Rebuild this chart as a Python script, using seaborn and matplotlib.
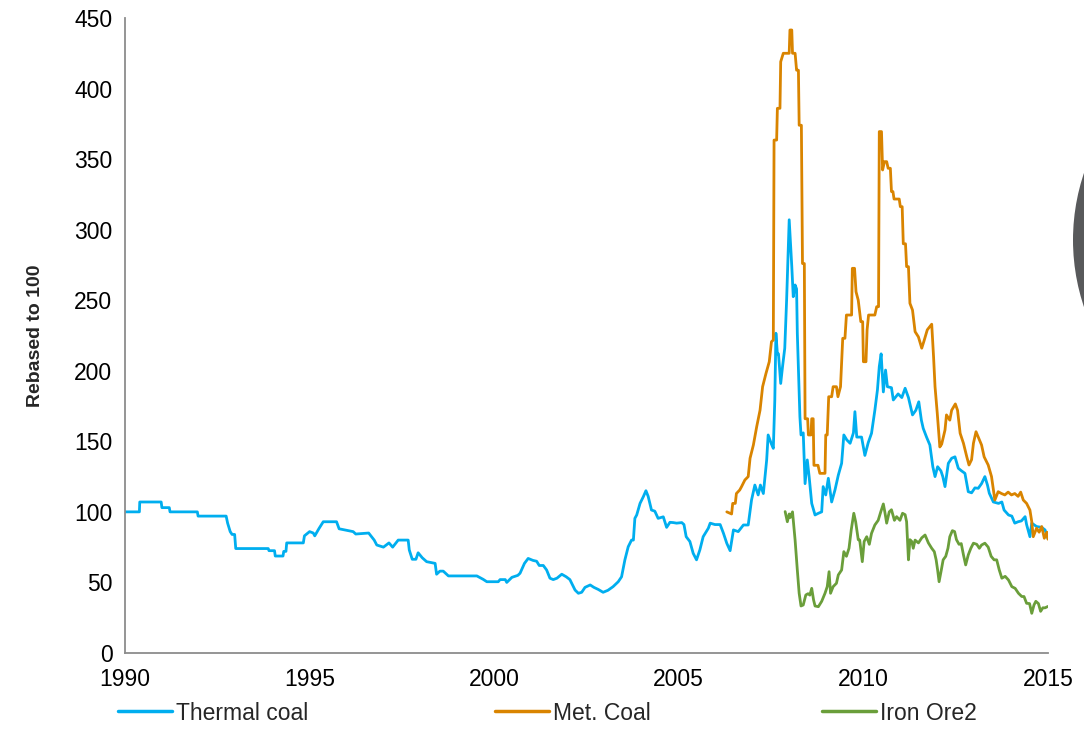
import matplotlib
matplotlib.use("Agg")
import matplotlib.pyplot as plt
from matplotlib.lines import Line2D
from matplotlib.patches import Ellipse
import seaborn as sns
import pandas as pd

# Thermal coal, rebased to 100 (decimal year, index)
thermal_year = [
    1990.0, 1990.39, 1990.40, 1990.98, 1991.0, 1991.2, 1991.22, 1991.96, 1991.98, 1992.74,
    1992.78, 1992.85, 1992.9, 1992.97, 1993.0, 1993.88, 1993.9, 1994.05, 1994.07, 1994.28,
    1994.3, 1994.36, 1994.38, 1994.83, 1994.86, 1995.0, 1995.1, 1995.14, 1995.25, 1995.37,
    1995.73, 1995.8, 1996.18, 1996.25, 1996.6, 1996.75, 1996.82, 1997.0, 1997.15, 1997.25,
    1997.4, 1997.67, 1997.7, 1997.78, 1997.88, 1997.94, 1998.05, 1998.17, 1998.4, 1998.44,
    1998.53, 1998.62, 1998.76, 1999.53, 1999.7, 1999.8, 2000.11, 2000.16, 2000.3, 2000.34,
    2000.48, 2000.64, 2000.7, 2000.82, 2000.92, 2001.05, 2001.15, 2001.22, 2001.33, 2001.42,
    2001.51, 2001.6, 2001.7, 2001.83, 2001.95, 2002.05, 2002.19, 2002.28, 2002.37, 2002.46,
    2002.6, 2002.7, 2002.82, 2002.95, 2003.08, 2003.22, 2003.36, 2003.45, 2003.54, 2003.63,
    2003.72, 2003.77, 2003.81, 2003.86, 2003.95, 2004.04, 2004.11, 2004.17, 2004.26, 2004.35,
    2004.44, 2004.58, 2004.67, 2004.76, 2004.85, 2004.94, 2005.08, 2005.14, 2005.2, 2005.3,
    2005.39, 2005.48, 2005.57, 2005.66, 2005.8, 2005.85, 2005.98, 2006.12, 2006.21, 2006.3,
    2006.39, 2006.48, 2006.61, 2006.75, 2006.88, 2006.97, 2007.06, 2007.15, 2007.21, 2007.29,
    2007.38, 2007.42, 2007.51, 2007.56, 2007.6, 2007.63, 2007.67, 2007.7, 2007.76, 2007.81,
    2007.87, 2007.92, 2007.99, 2008.06, 2008.1, 2008.15, 2008.19, 2008.21, 2008.28, 2008.31,
    2008.37, 2008.42, 2008.48, 2008.53, 2008.6, 2008.69, 2008.78, 2008.87, 2008.91, 2008.98,
    2009.05, 2009.14, 2009.23, 2009.32, 2009.41, 2009.47, 2009.55, 2009.64, 2009.73, 2009.77,
    2009.82, 2009.95, 2010.04, 2010.13, 2010.22, 2010.31, 2010.38, 2010.43, 2010.48, 2010.54,
    2010.6, 2010.65, 2010.76, 2010.81, 2010.94, 2011.04, 2011.13, 2011.22, 2011.33, 2011.42,
    2011.5, 2011.57, 2011.62, 2011.71, 2011.8, 2011.88, 2011.94, 2012.01, 2012.1, 2012.15,
    2012.21, 2012.3, 2012.39, 2012.48, 2012.57, 2012.66, 2012.75, 2012.84, 2012.93, 2013.02,
    2013.11, 2013.2, 2013.29, 2013.36, 2013.41, 2013.52, 2013.66, 2013.75, 2013.81, 2013.93,
    2014.02, 2014.1, 2014.19, 2014.28, 2014.38, 2014.42, 2014.51, 2014.56, 2014.69, 2014.83,
    2014.92, 2015.0,
]
thermal_value = [
    100, 100, 107, 107, 103, 103, 100, 100, 97, 97,
    92, 86, 84, 84, 74, 74, 72.5, 72.5, 68.7, 68.7,
    72, 72, 78, 78, 83, 86, 85, 83, 88, 93,
    93, 88, 86, 84.3, 85, 80, 76.5, 75, 78, 75,
    80, 80, 73, 66.4, 66.4, 71, 67.5, 64.7, 63.5, 55.8,
    58, 58, 54.6, 54.6, 52.2, 50.5, 50.5, 52, 52, 50,
    53.6, 55, 56.5, 63.5, 67, 65.6, 65, 62, 62, 58.8,
    53, 52, 53, 55.8, 54, 52, 44.6, 42.3, 43, 46.5,
    48.2, 46.5, 45, 43, 44.4, 47, 50.5, 54, 66, 75.3,
    80, 80, 95.4, 97.8, 106, 110.8, 115, 111, 101.3, 100.5,
    95.4, 96.5, 89, 92.6, 92.4, 92, 92.4, 91, 82.4, 79,
    70.6, 66, 73, 82.4, 88.4, 92, 91, 91, 84.8, 77.7,
    72.5, 87.2, 86, 90.7, 90.7, 108.4, 119, 112, 119, 113,
    136.8, 154.5, 148, 145, 179, 226.6, 212, 212, 191, 203,
    216, 250, 307, 274, 252.5, 260.8, 258, 226.6, 167.5, 154.5,
    156, 120, 136.8, 125, 106, 97.8, 99, 100, 117.9, 112,
    123.8, 107, 115.5, 126, 134.4, 154.5, 151, 148.6, 156, 171,
    153, 153, 140, 149, 155.7, 172, 186.4, 203, 212, 185,
    200.5, 188.7, 188, 179.3, 183.6, 181, 187.6, 181, 168.7, 172,
    178, 165, 159.2, 153, 147.4, 132, 125, 132, 129, 125,
    117.9, 134.4, 138, 139, 130.9, 129, 127.3, 114.3, 113.5, 117,
    116.7, 120, 125, 119, 113.2, 107, 106, 107, 101.3, 97.8,
    97, 92, 93, 93.6, 96.6, 91, 82.4, 92, 89.6, 89,
    87.2, 81,
]

# Metallurgical coal, rebased to 100
met_year = [
    2006.3, 2006.43, 2006.46, 2006.53, 2006.56, 2006.65, 2006.7, 2006.79, 2006.88, 2006.93,
    2007.02, 2007.11, 2007.2, 2007.27, 2007.36, 2007.45, 2007.51, 2007.56, 2007.58, 2007.65,
    2007.67, 2007.74, 2007.76, 2007.83, 2007.99, 2008.01, 2008.06, 2008.08, 2008.15, 2008.19,
    2008.24, 2008.26, 2008.32, 2008.35, 2008.4, 2008.42, 2008.49, 2008.51, 2008.58, 2008.6,
    2008.64, 2008.66, 2008.77, 2008.82, 2008.96, 2008.98, 2009.02, 2009.06, 2009.14, 2009.18,
    2009.27, 2009.31, 2009.38, 2009.44, 2009.5, 2009.54, 2009.68, 2009.7, 2009.76, 2009.8,
    2009.86, 2009.93, 2009.98, 2010.0, 2010.07, 2010.1, 2010.14, 2010.31, 2010.36, 2010.41,
    2010.43, 2010.49, 2010.52, 2010.57, 2010.63, 2010.67, 2010.73, 2010.76, 2010.8, 2010.83,
    2010.97, 2011.0, 2011.05, 2011.08, 2011.14, 2011.17, 2011.22, 2011.26, 2011.33, 2011.4,
    2011.49, 2011.58, 2011.64, 2011.73, 2011.85, 2011.9, 2011.94, 2012.0, 2012.07, 2012.12,
    2012.21, 2012.25, 2012.34, 2012.39, 2012.49, 2012.55, 2012.62, 2012.71, 2012.8, 2012.86,
    2012.93, 2012.98, 2013.05, 2013.11, 2013.2, 2013.27, 2013.38, 2013.47, 2013.52, 2013.56,
    2013.65, 2013.74, 2013.83, 2013.92, 2014.01, 2014.1, 2014.19, 2014.26, 2014.33, 2014.42,
    2014.51, 2014.56, 2014.6, 2014.69, 2014.76, 2014.83, 2014.9, 2014.97, 2015.0,
]
met_value = [
    100, 98.5, 106, 106, 113, 115.5, 117.9, 122.6, 125, 138,
    147.4, 160.4, 172, 188.7, 198, 206.4, 220.6, 221.8, 363.5, 363.5,
    386, 386, 419, 425, 425, 441.5, 441.5, 425, 425, 413,
    413, 374, 374, 276, 276, 166, 166, 154.5, 154.5, 166,
    166, 133, 133, 127.3, 127.3, 154.5, 154.5, 181.6, 181.6, 188.7,
    188.7, 181.6, 188.7, 223, 223, 239.5, 239.5, 272.6, 272.6, 256,
    250, 234.8, 234.8, 206.4, 206.4, 229, 239.5, 239.5, 245.4, 245.4,
    369.5, 369.5, 342.3, 348.2, 348.2, 343.5, 343.5, 327, 327, 321.7,
    321.7, 316.3, 316.3, 290, 290, 273.8, 273.8, 247.8, 243, 227.7,
    224, 216, 221, 229, 233, 210, 188.7, 170, 146, 148,
    158, 168.7, 165, 172, 176.5, 172, 155.7, 148.6, 139, 133.2,
    137, 148.6, 156.8, 153, 147.4, 139, 133.2, 125, 115.5, 108.4,
    114.3, 113, 112, 114, 112, 113, 111, 114, 108.4, 106,
    101.3, 93, 82.4, 88.4, 85.6, 89.6, 81.3, 85.6, 80.6,
]

# Iron ore, rebased to 100
iron_year = [
    2007.88, 2007.94, 2007.99, 2008.02, 2008.08, 2008.15, 2008.21, 2008.26, 2008.31, 2008.37,
    2008.44, 2008.5, 2008.55, 2008.6, 2008.65, 2008.69, 2008.78, 2008.87, 2008.96, 2009.02,
    2009.07, 2009.11, 2009.18, 2009.27, 2009.32, 2009.41, 2009.47, 2009.54, 2009.61, 2009.67,
    2009.74, 2009.79, 2009.86, 2009.9, 2009.97, 2010.02, 2010.09, 2010.16, 2010.22, 2010.31,
    2010.4, 2010.47, 2010.54, 2010.58, 2010.63, 2010.7, 2010.76, 2010.84, 2010.9, 2010.99,
    2011.06, 2011.13, 2011.17, 2011.22, 2011.26, 2011.31, 2011.35, 2011.4, 2011.49, 2011.58,
    2011.67, 2011.76, 2011.85, 2011.92, 2011.97, 2012.01, 2012.05, 2012.11, 2012.16, 2012.23,
    2012.29, 2012.34, 2012.41, 2012.47, 2012.52, 2012.59, 2012.65, 2012.71, 2012.77, 2012.84,
    2012.91, 2012.98, 2013.07, 2013.14, 2013.2, 2013.29, 2013.38, 2013.46, 2013.54, 2013.61,
    2013.68, 2013.75, 2013.84, 2013.93, 2014.02, 2014.11, 2014.2, 2014.29, 2014.35, 2014.42,
    2014.5, 2014.56, 2014.62, 2014.67, 2014.74, 2014.8, 2014.86, 2014.92, 2015.0,
]
iron_value = [
    100.2, 93, 98.5, 96, 100, 80, 58.8, 42.3, 33.3, 34,
    41.1, 42, 41, 45.8, 37.6, 33.3, 32.8, 36.6, 42.3, 47,
    57.6, 42.3, 47, 49.4, 55.3, 58.8, 71.8, 68.5, 74.2, 87.2,
    99, 93, 80.3, 80, 64.7, 79, 82.4, 77, 84.8, 90.7,
    94, 100, 105.6, 100, 92, 100, 101.5, 94, 96.6, 94,
    99, 98, 93, 66, 80.3, 79, 74.2, 80, 78, 81.6,
    83.6, 78, 74.2, 71.8, 66, 58.8, 50.5, 58.8, 66, 68.5,
    74.2, 82.4, 86.7, 86, 80.3, 77, 77.5, 69.5, 62.4, 69.5,
    74.2, 77.8, 77, 74.2, 76.5, 77.8, 75, 68.5, 66, 66,
    58.8, 53, 54.3, 51.7, 47, 45.8, 42.3, 40, 40, 35.2,
    35, 28.1, 34, 36.6, 35, 29.5, 32, 32, 33,
]

series_names = ["Thermal coal", "Met. Coal", "Iron Ore2"]
series_colors = ["#00AEEF", "#D98400", "#6A9E3A"]
x_ticks = [1990, 1995, 2000, 2005, 2010, 2015]
y_ticks = [0, 50, 100, 150, 200, 250, 300, 350, 400, 450]

sns.set_style("white")
plt.rcParams["font.family"] = ["Liberation Sans", "DejaVu Sans"]

frames = [
    pd.DataFrame({"year": thermal_year, "value": thermal_value}),
    pd.DataFrame({"year": met_year, "value": met_value}),
    pd.DataFrame({"year": iron_year, "value": iron_value}),
]

fig = plt.figure(figsize=(10.84, 7.41), dpi=100)
ax = fig.add_axes([0.1153, 0.1188, 0.8515, 0.8569])

for df, name, col in zip(frames, series_names, series_colors):
    sns.lineplot(data=df, x="year", y="value", ax=ax, color=col, linewidth=2.0,
                 estimator=None, sort=False, legend=False)

ax.set_xlim(1990, 2015)
ax.set_ylim(0, 450)
ax.set_xticks(x_ticks)
ax.set_yticks(y_ticks)
ax.set_xticklabels([str(t) for t in x_ticks])
ax.set_yticklabels([str(t) for t in y_ticks])
ax.set_xlabel("")
ax.set_ylabel("Rebased to 100", fontsize=14, fontweight="bold", labelpad=22)

for side in ["top", "right"]:
    ax.spines[side].set_visible(False)
for side in ["left", "bottom"]:
    ax.spines[side].set_color("#8C8C8C")
    ax.spines[side].set_linewidth(1.3)
ax.tick_params(axis="both", which="major", direction="out", length=5, width=1.3,
               color="#8C8C8C", labelsize=16.5, labelcolor="#000000", pad=4)
ax.tick_params(axis="x", pad=6)

# legend entries along the bottom, one per commodity
legend_x = [118, 495, 822]
for name, col, lx in zip(series_names, series_colors, legend_x):
    handle = Line2D([], [], color=col, linewidth=2.5)
    fig.legend([handle], [name], loc="center left",
               bbox_to_anchor=(lx / 1084, 1 - 713 / 741), frameon=False,
               fontsize=16.5, handlelength=2.35, handletextpad=0.2,
               borderpad=0, borderaxespad=0)

# dark grey disc partly visible at the right edge
disc = Ellipse((1283 / 1084, 1 - 240 / 741), width=2 * 210 / 1084, height=2 * 210 / 741,
               transform=fig.transFigure, facecolor="#58595B", edgecolor="none", zorder=0)
fig.patches.append(disc)

fig.savefig("out.png", dpi=100)
